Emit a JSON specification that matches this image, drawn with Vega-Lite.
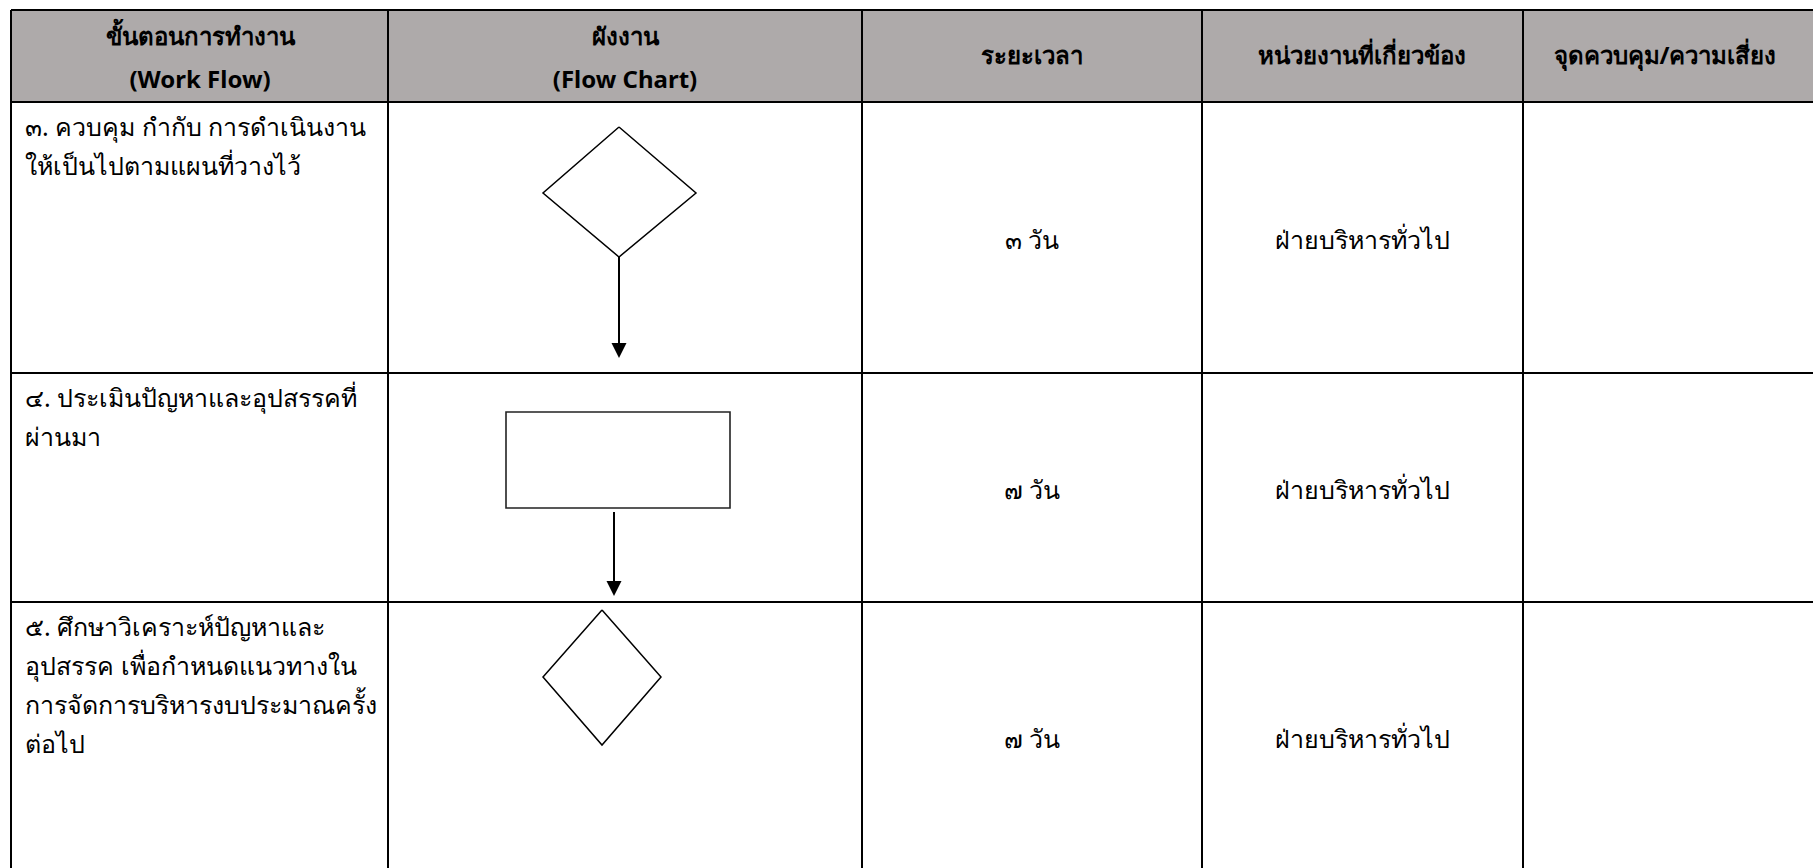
{
  "$schema": "https://vega.github.io/schema/vega-lite/v6.json",
  "width": 1813,
  "height": 868,
  "padding": 0,
  "autosize": {"type": "none"},
  "background": "white",
  "config": {"view": {"stroke": null}, "axis": {"disable": true}},
  "datasets": {
    "header": [{"x": 11, "x2": 1813, "y": 10, "y2": 102}],
    "hlines": [
      {"y": 10, "x": 11, "x2": 1813},
      {"y": 102, "x": 11, "x2": 1813},
      {"y": 373, "x": 11, "x2": 1813},
      {"y": 602, "x": 11, "x2": 1813}
    ],
    "vlines": [
      {"x": 11, "y": 10, "y2": 868},
      {"x": 388, "y": 10, "y2": 868},
      {"x": 862, "y": 10, "y2": 868},
      {"x": 1202, "y": 10, "y2": 868},
      {"x": 1523, "y": 10, "y2": 868}
    ],
    "diamonds": [
      {"shape": "d1", "i": 0, "x": 619, "y": 127},
      {"shape": "d1", "i": 1, "x": 696, "y": 193},
      {"shape": "d1", "i": 2, "x": 619, "y": 257},
      {"shape": "d1", "i": 3, "x": 543, "y": 193},
      {"shape": "d1", "i": 4, "x": 619, "y": 127},
      {"shape": "d3", "i": 0, "x": 602, "y": 610},
      {"shape": "d3", "i": 1, "x": 661, "y": 677},
      {"shape": "d3", "i": 2, "x": 602, "y": 745},
      {"shape": "d3", "i": 3, "x": 543, "y": 677},
      {"shape": "d3", "i": 4, "x": 602, "y": 610}
    ],
    "boxes": [{"x": 506, "x2": 730, "y": 412, "y2": 508}],
    "arrows": [
      {"x": 619, "y": 257, "y2": 344, "head": 350.5},
      {"x": 614, "y": 512, "y2": 582, "head": 588.5}
    ],
    "headTexts": [
      {"x": 200, "y": 38, "t": "ขั้นตอนการทำงาน"},
      {"x": 200, "y": 81, "t": "(Work Flow)"},
      {"x": 625, "y": 38, "t": "ผังงาน"},
      {"x": 625, "y": 81, "t": "(Flow Chart)"},
      {"x": 1032, "y": 57, "t": "ระยะเวลา"},
      {"x": 1362, "y": 57, "t": "หน่วยงานที่เกี่ยวข้อง"},
      {"x": 1665, "y": 57, "t": "จุดควบคุม/ความเสี่ยง"}
    ],
    "stepTexts": [
      {"x": 25, "y": 116, "t": "๓. ควบคุม กำกับ การดำเนินงาน\nให้เป็นไปตามแผนที่วางไว้"},
      {"x": 25, "y": 387, "t": "๔. ประเมินปัญหาและอุปสรรคที่\nผ่านมา"},
      {"x": 25, "y": 616, "t": "๕. ศึกษาวิเคราะห์ปัญหาและ\nอุปสรรค เพื่อกำหนดแนวทางใน\nการจัดการบริหารงบประมาณครั้ง\nต่อไป"}
    ],
    "cellTexts": [
      {"x": 1032, "y": 241, "t": "๓ วัน"},
      {"x": 1362, "y": 241, "t": "ฝ่ายบริหารทั่วไป"},
      {"x": 1032, "y": 491, "t": "๗ วัน"},
      {"x": 1362, "y": 491, "t": "ฝ่ายบริหารทั่วไป"},
      {"x": 1032, "y": 740, "t": "๗ วัน"},
      {"x": 1362, "y": 740, "t": "ฝ่ายบริหารทั่วไป"}
    ]
  },
  "layer": [
    {
      "data": {"name": "header"},
      "mark": {"type": "rect", "fill": "#aeaaaa"},
      "encoding": {
        "x": {"field": "x", "type": "quantitative", "scale": {"domain": [0, 1813], "nice": false, "zero": false}},
        "x2": {"field": "x2"},
        "y": {"field": "y", "type": "quantitative", "scale": {"domain": [0, 868], "nice": false, "zero": false, "reverse": true}},
        "y2": {"field": "y2"}
      }
    },
    {
      "data": {"name": "hlines"},
      "mark": {"type": "rule", "stroke": "black", "strokeWidth": 2.2},
      "encoding": {
        "x": {"field": "x", "type": "quantitative"},
        "x2": {"field": "x2"},
        "y": {"field": "y", "type": "quantitative"}
      }
    },
    {
      "data": {"name": "vlines"},
      "mark": {"type": "rule", "stroke": "black", "strokeWidth": 2},
      "encoding": {
        "x": {"field": "x", "type": "quantitative"},
        "y": {"field": "y", "type": "quantitative"},
        "y2": {"field": "y2"}
      }
    },
    {
      "data": {"name": "boxes"},
      "mark": {"type": "rect", "fill": "white", "stroke": "#222222", "strokeWidth": 1.6},
      "encoding": {
        "x": {"field": "x", "type": "quantitative"},
        "x2": {"field": "x2"},
        "y": {"field": "y", "type": "quantitative"},
        "y2": {"field": "y2"}
      }
    },
    {
      "data": {"name": "diamonds"},
      "mark": {"type": "line", "stroke": "black", "strokeWidth": 1.5, "strokeJoin": "miter"},
      "encoding": {
        "x": {"field": "x", "type": "quantitative"},
        "y": {"field": "y", "type": "quantitative"},
        "detail": {"field": "shape"},
        "order": {"field": "i", "type": "quantitative"}
      }
    },
    {
      "data": {"name": "arrows"},
      "mark": {"type": "rule", "stroke": "black", "strokeWidth": 2},
      "encoding": {
        "x": {"field": "x", "type": "quantitative"},
        "y": {"field": "y", "type": "quantitative"},
        "y2": {"field": "y2"}
      }
    },
    {
      "data": {"name": "arrows"},
      "mark": {"type": "point", "shape": "M-1,-1L1,-1L0,1Z", "size": 225, "filled": true, "fill": "black", "stroke": null, "opacity": 1},
      "encoding": {
        "x": {"field": "x", "type": "quantitative"},
        "y": {"field": "head", "type": "quantitative"}
      }
    },
    {
      "data": {"name": "headTexts"},
      "mark": {"type": "text", "font": "Noto Sans", "fontSize": 24, "fontWeight": "bold", "align": "center", "baseline": "middle", "fill": "black"},
      "encoding": {
        "x": {"field": "x", "type": "quantitative"},
        "y": {"field": "y", "type": "quantitative"},
        "text": {"field": "t"}
      }
    },
    {
      "data": {"name": "stepTexts"},
      "mark": {"type": "text", "font": "Noto Sans", "fontSize": 25, "align": "left", "baseline": "top", "lineBreak": "\n", "lineHeight": 39, "fill": "black"},
      "encoding": {
        "x": {"field": "x", "type": "quantitative"},
        "y": {"field": "y", "type": "quantitative"},
        "text": {"field": "t"}
      }
    },
    {
      "data": {"name": "cellTexts"},
      "mark": {"type": "text", "font": "Noto Sans", "fontSize": 25, "align": "center", "baseline": "middle", "fill": "black"},
      "encoding": {
        "x": {"field": "x", "type": "quantitative"},
        "y": {"field": "y", "type": "quantitative"},
        "text": {"field": "t"}
      }
    }
  ]
}
